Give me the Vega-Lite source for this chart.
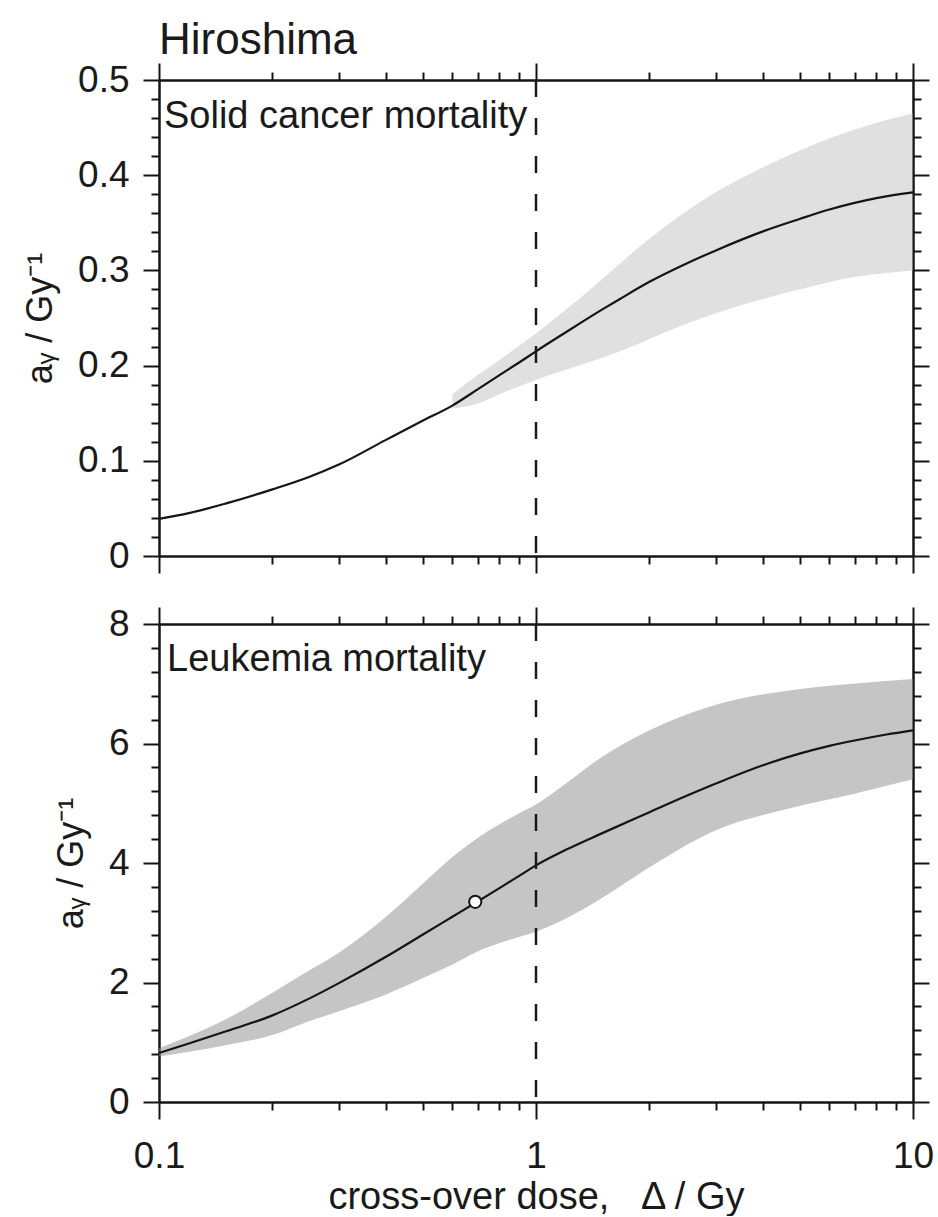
{
  "$schema": "https://vega.github.io/schema/vega-lite/v6.json",
  "background": "white",
  "padding": {"left": 22, "top": 19, "right": 4, "bottom": 0},
  "config": {
    "font": "Liberation Sans",
    "view": {"stroke": null},
    "axis": {
      "grid": false,
      "domainColor": "#151515",
      "domainWidth": 2.5,
      "tickColor": "#151515",
      "tickWidth": 2,
      "labelFont": "Liberation Sans",
      "labelFontSize": 37,
      "labelColor": "#1a1a1a",
      "titleFont": "Liberation Sans",
      "titleFontSize": 36,
      "titleFontWeight": "normal",
      "titleColor": "#1a1a1a",
      "labelOverlap": false,
      "labelFlush": false,
      "labelBound": false
    },
    "title": {"font": "Liberation Sans", "fontWeight": "normal", "color": "#1a1a1a"}
  },
  "datasets": {
    "topBand": [
      {"dose": 0.6, "lo": 0.155, "hi": 0.17},
      {"dose": 0.7, "lo": 0.16, "hi": 0.19},
      {"dose": 0.8, "lo": 0.17, "hi": 0.206},
      {"dose": 1.0, "lo": 0.185, "hi": 0.234},
      {"dose": 1.3, "lo": 0.2, "hi": 0.27},
      {"dose": 1.7, "lo": 0.216, "hi": 0.31},
      {"dose": 2.2, "lo": 0.235, "hi": 0.346},
      {"dose": 3.0, "lo": 0.255, "hi": 0.382},
      {"dose": 4.0, "lo": 0.27, "hi": 0.408},
      {"dose": 5.0, "lo": 0.28, "hi": 0.426},
      {"dose": 7.0, "lo": 0.293, "hi": 0.448},
      {"dose": 10, "lo": 0.3, "hi": 0.465}
    ],
    "topLine": [
      {"dose": 0.1, "a": 0.039},
      {"dose": 0.12, "a": 0.045},
      {"dose": 0.15, "a": 0.055},
      {"dose": 0.2, "a": 0.07},
      {"dose": 0.25, "a": 0.083},
      {"dose": 0.3, "a": 0.096},
      {"dose": 0.4, "a": 0.122},
      {"dose": 0.5, "a": 0.142},
      {"dose": 0.6, "a": 0.158},
      {"dose": 0.7, "a": 0.175},
      {"dose": 0.8, "a": 0.19},
      {"dose": 0.9, "a": 0.203},
      {"dose": 1.0, "a": 0.215},
      {"dose": 1.2, "a": 0.235},
      {"dose": 1.5, "a": 0.259},
      {"dose": 1.67, "a": 0.27},
      {"dose": 2.0, "a": 0.288},
      {"dose": 2.5, "a": 0.307},
      {"dose": 3.0, "a": 0.321},
      {"dose": 4.0, "a": 0.341},
      {"dose": 5.0, "a": 0.354},
      {"dose": 6.0, "a": 0.364},
      {"dose": 7.0, "a": 0.371},
      {"dose": 8.0, "a": 0.376},
      {"dose": 10, "a": 0.382}
    ],
    "botBand": [
      {"dose": 0.1, "lo": 0.76, "hi": 0.9},
      {"dose": 0.12, "lo": 0.84, "hi": 1.1},
      {"dose": 0.15, "lo": 0.95, "hi": 1.38},
      {"dose": 0.2, "lo": 1.12, "hi": 1.83},
      {"dose": 0.25, "lo": 1.35, "hi": 2.2},
      {"dose": 0.3, "lo": 1.52, "hi": 2.5},
      {"dose": 0.4, "lo": 1.8, "hi": 3.1},
      {"dose": 0.5, "lo": 2.07, "hi": 3.65},
      {"dose": 0.6, "lo": 2.3, "hi": 4.1},
      {"dose": 0.7, "lo": 2.52, "hi": 4.42},
      {"dose": 0.8, "lo": 2.66, "hi": 4.65},
      {"dose": 0.9, "lo": 2.76, "hi": 4.83},
      {"dose": 1.0, "lo": 2.85, "hi": 4.98},
      {"dose": 1.2, "lo": 3.07, "hi": 5.33},
      {"dose": 1.5, "lo": 3.42, "hi": 5.78},
      {"dose": 2.0, "lo": 3.93, "hi": 6.22},
      {"dose": 3.0, "lo": 4.55, "hi": 6.65},
      {"dose": 4.6, "lo": 4.9, "hi": 6.88},
      {"dose": 6.9, "lo": 5.15, "hi": 7.0},
      {"dose": 10, "lo": 5.4, "hi": 7.08}
    ],
    "botLine": [
      {"dose": 0.1, "a": 0.82},
      {"dose": 0.12, "a": 0.98},
      {"dose": 0.15, "a": 1.18},
      {"dose": 0.2, "a": 1.45},
      {"dose": 0.25, "a": 1.73},
      {"dose": 0.3, "a": 1.99},
      {"dose": 0.4, "a": 2.43},
      {"dose": 0.5, "a": 2.8},
      {"dose": 0.6, "a": 3.1},
      {"dose": 0.69, "a": 3.33},
      {"dose": 0.8, "a": 3.58},
      {"dose": 0.9, "a": 3.78},
      {"dose": 1.0, "a": 3.96},
      {"dose": 1.2, "a": 4.22},
      {"dose": 1.5, "a": 4.5},
      {"dose": 2.0, "a": 4.85},
      {"dose": 2.5, "a": 5.12},
      {"dose": 3.0, "a": 5.33},
      {"dose": 3.74, "a": 5.57},
      {"dose": 5.0, "a": 5.83},
      {"dose": 6.0, "a": 5.96},
      {"dose": 7.0, "a": 6.05},
      {"dose": 8.5, "a": 6.15},
      {"dose": 10, "a": 6.22}
    ],
    "refDose": [{"dose": 1}],
    "marker": [{"dose": 0.69, "a": 3.35}],
    "topLabel": [{"label": "Solid cancer mortality"}],
    "botLabel": [{"label": "Leukemia mortality"}]
  },
  "spacing": 31,
  "vconcat": [
    {
      "width": 754,
      "height": 476,
      "title": {"text": "Hiroshima", "anchor": "start", "frame": "group", "fontSize": 44, "offset": -2},
      "resolve": {"axis": {"x": "independent", "y": "independent"}},
      "layer": [
        {
          "data": {"name": "topBand"},
          "mark": {"type": "area", "color": "#b4b4b4", "opacity": 0.42, "interpolate": "monotone"},
          "encoding": {
            "x": {"field": "dose", "type": "quantitative", "scale": {"type": "log", "domain": [0.1, 10]},
              "axis": {"orient": "bottom", "labels": false, "title": null,
                "values": [0.1,0.2,0.3,0.4,0.5,0.6,0.7,0.8,0.9,1,2,3,4,5,6,7,8,9,10],
                "tickSize": {"condition": {"test": "datum.value == 0.1 || datum.value == 1 || datum.value == 10", "value": 17}, "value": 8}}},
            "y": {"field": "lo", "type": "quantitative", "scale": {"domain": [0, 0.5], "nice": false, "zero": false},
              "axis": {"orient": "left", "title": "aᵧ / Gy⁻¹", "titlePadding": 18, "labelPadding": 14,
                "values": [0,0.02,0.04,0.06,0.08,0.1,0.12,0.14,0.16,0.18,0.2,0.22,0.24,0.26,0.28,0.3,0.32,0.34,0.36,0.38,0.4,0.42,0.44,0.46,0.48,0.5],
                "labelExpr": "abs(datum.value*10 - round(datum.value*10)) < 0.001 ? (datum.value == 0 ? '0' : format(datum.value, '.1f')) : ''",
                "tickSize": {"condition": {"test": "abs(datum.value*10 - round(datum.value*10)) < 0.001", "value": 16}, "value": 8}}},
            "y2": {"field": "hi"}
          }
        },
        {
          "data": {"name": "topLine"},
          "mark": {"type": "line", "color": "#151515", "strokeWidth": 2.2, "interpolate": "monotone"},
          "encoding": {
            "x": {"field": "dose", "type": "quantitative", "scale": {"type": "log", "domain": [0.1, 10]},
              "axis": {"orient": "top", "labels": false, "title": null,
                "values": [0.1,0.2,0.3,0.4,0.5,0.6,0.7,0.8,0.9,1,2,3,4,5,6,7,8,9,10],
                "tickSize": {"condition": {"test": "datum.value == 0.1 || datum.value == 1 || datum.value == 10", "value": 17}, "value": 8}}},
            "y": {"field": "a", "type": "quantitative", "scale": {"domain": [0, 0.5], "nice": false, "zero": false},
              "axis": {"orient": "right", "labels": false, "title": null,
                "values": [0,0.02,0.04,0.06,0.08,0.1,0.12,0.14,0.16,0.18,0.2,0.22,0.24,0.26,0.28,0.3,0.32,0.34,0.36,0.38,0.4,0.42,0.44,0.46,0.48,0.5],
                "tickSize": {"condition": {"test": "abs(datum.value*10 - round(datum.value*10)) < 0.001", "value": 16}, "value": 8}}}
          }
        },
        {
          "data": {"name": "refDose"},
          "mark": {"type": "rule", "color": "#1a1a1a", "strokeWidth": 2.5, "strokeDash": [17, 21]},
          "encoding": {
            "x": {"field": "dose", "type": "quantitative", "scale": {"type": "log", "domain": [0.1, 10]}, "axis": null}
          }
        },
        {
          "data": {"name": "topLabel"},
          "mark": {"type": "text", "align": "left", "baseline": "alphabetic", "fontSize": 38, "dx": 5, "color": "#1a1a1a"},
          "encoding": {
            "x": {"datum": 0.1, "type": "quantitative", "scale": {"type": "log", "domain": [0.1, 10]}, "axis": null},
            "y": {"datum": 0.45, "type": "quantitative", "scale": {"domain": [0, 0.5], "nice": false, "zero": false}, "axis": null},
            "text": {"field": "label"}
          }
        }
      ]
    },
    {
      "width": 754,
      "height": 478,
      "resolve": {"axis": {"x": "independent", "y": "independent"}},
      "layer": [
        {
          "data": {"name": "botBand"},
          "mark": {"type": "area", "color": "#8c8c8c", "opacity": 0.5, "interpolate": "monotone"},
          "encoding": {
            "x": {"field": "dose", "type": "quantitative", "scale": {"type": "log", "domain": [0.1, 10]},
              "axis": {"orient": "bottom", "title": "cross-over dose,\u00a0\u00a0 Δ / Gy", "titleFontSize": 38, "titlePadding": 4, "labelPadding": 19,
                "values": [0.1,0.2,0.3,0.4,0.5,0.6,0.7,0.8,0.9,1,2,3,4,5,6,7,8,9,10],
                "labelExpr": "datum.value == 0.1 ? '0.1' : datum.value == 1 ? '1' : datum.value == 10 ? '10' : ''",
                "tickSize": {"condition": {"test": "datum.value == 0.1 || datum.value == 1 || datum.value == 10", "value": 17}, "value": 8}}},
            "y": {"field": "lo", "type": "quantitative", "scale": {"domain": [0, 8], "nice": false, "zero": false},
              "axis": {"orient": "left", "title": "aᵧ / Gy⁻¹", "titlePadding": 18, "labelPadding": 14,
                "values": [0,0.4,0.8,1.2,1.6,2,2.4,2.8,3.2,3.6,4,4.4,4.8,5.2,5.6,6,6.4,6.8,7.2,7.6,8],
                "labelExpr": "datum.value % 2 === 0 ? format(datum.value, 'd') : ''",
                "tickSize": {"condition": {"test": "datum.value % 2 === 0", "value": 16}, "value": 8}}},
            "y2": {"field": "hi"}
          }
        },
        {
          "data": {"name": "botLine"},
          "mark": {"type": "line", "color": "#151515", "strokeWidth": 2.2, "interpolate": "monotone"},
          "encoding": {
            "x": {"field": "dose", "type": "quantitative", "scale": {"type": "log", "domain": [0.1, 10]},
              "axis": {"orient": "top", "labels": false, "title": null,
                "values": [0.1,0.2,0.3,0.4,0.5,0.6,0.7,0.8,0.9,1,2,3,4,5,6,7,8,9,10],
                "tickSize": {"condition": {"test": "datum.value == 0.1 || datum.value == 1 || datum.value == 10", "value": 17}, "value": 8}}},
            "y": {"field": "a", "type": "quantitative", "scale": {"domain": [0, 8], "nice": false, "zero": false},
              "axis": {"orient": "right", "labels": false, "title": null,
                "values": [0,0.4,0.8,1.2,1.6,2,2.4,2.8,3.2,3.6,4,4.4,4.8,5.2,5.6,6,6.4,6.8,7.2,7.6,8],
                "tickSize": {"condition": {"test": "datum.value % 2 === 0", "value": 16}, "value": 8}}}
          }
        },
        {
          "data": {"name": "refDose"},
          "mark": {"type": "rule", "color": "#1a1a1a", "strokeWidth": 2.5, "strokeDash": [17, 21]},
          "encoding": {
            "x": {"field": "dose", "type": "quantitative", "scale": {"type": "log", "domain": [0.1, 10]}, "axis": null}
          }
        },
        {
          "data": {"name": "marker"},
          "mark": {"type": "point", "filled": true, "fill": "white", "stroke": "#151515", "strokeWidth": 2, "size": 150, "opacity": 1},
          "encoding": {
            "x": {"field": "dose", "type": "quantitative", "scale": {"type": "log", "domain": [0.1, 10]}, "axis": null},
            "y": {"field": "a", "type": "quantitative", "scale": {"domain": [0, 8], "nice": false, "zero": false}, "axis": null}
          }
        },
        {
          "data": {"name": "botLabel"},
          "mark": {"type": "text", "align": "left", "baseline": "alphabetic", "fontSize": 38, "dx": 8, "color": "#1a1a1a"},
          "encoding": {
            "x": {"datum": 0.1, "type": "quantitative", "scale": {"type": "log", "domain": [0.1, 10]}, "axis": null},
            "y": {"datum": 7.21, "type": "quantitative", "scale": {"domain": [0, 8], "nice": false, "zero": false}, "axis": null},
            "text": {"field": "label"}
          }
        }
      ]
    }
  ]
}
